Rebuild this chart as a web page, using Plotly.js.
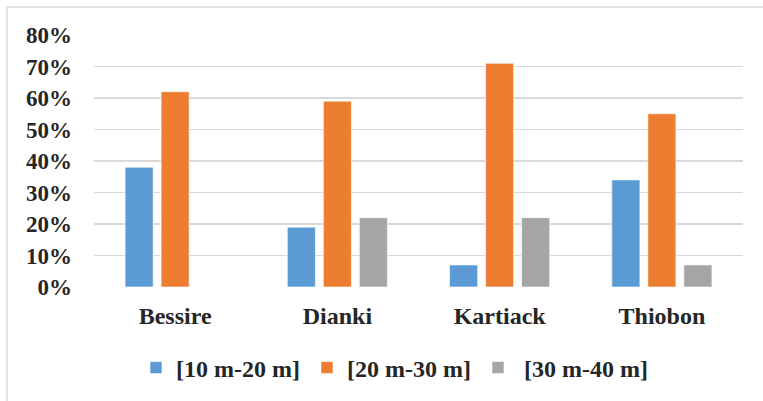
<!DOCTYPE html>
<html>
<head>
<meta charset="utf-8">
<script src="https://cdn.plot.ly/plotly-3.0.1.min.js"></script>
<style>
html,body{margin:0;padding:0;background:#fff;}
#chart{width:763px;height:401px;}
</style>
</head>
<body>
<div id="chart"></div>
<script>
var categories = ["Bessire", "Dianki", "Kartiack", "Thiobon"];
var seriesNames = ["[10 m-20 m]", "[20 m-30 m]", " [30 m-40 m]"];
var s10_20 = [38, 19, 7, 34];
var s20_30 = [62, 59, 71, 55];
var s30_40 = [0, 22, 22, 7];
var colors = ["#5b9bd5", "#ed7d31", "#a5a5a5"];
var yTicks = [0, 10, 20, 30, 40, 50, 60, 70, 80];
var yTickLabels = ["0%", "10%", "20%", "30%", "40%", "50%", "60%", "70%", "80%"];

var font = "Liberation Serif, Times New Roman, serif";
var textColor = "#262626";
var series = [s10_20, s20_30, s30_40];
var traces = series.map(function (vals, i) {
  return {
    type: "bar",
    name: seriesNames[i],
    x: categories,
    y: vals,
    marker: {color: colors[i], line: {color: "rgba(255,255,255,0.6)", width: 1}},
    hoverinfo: "none"
  };
});

var W = 763, H = 401, L = 94, R = 20, T = 35, B = 113;
var pw = W - L - R, ph = H - T - B;
function px(x) { return (x - L) / pw; }
function py(y) { return 1 - (y - T) / ph; }

var layout = {
  width: W, height: H,
  margin: {l: L, r: R, t: T, b: B, pad: 0},
  paper_bgcolor: "#fff",
  plot_bgcolor: "#fff",
  barmode: "group",
  bargap: 0.334,
  bargroupgap: 0.22,
  showlegend: true,
  font: {family: font, size: 24, color: textColor},
  xaxis: {
    type: "category",
    showgrid: false,
    zeroline: false,
    showline: false,
    ticks: "",
    ticklabelstandoff: 12,
    tickfont: {family: font, size: 24, color: textColor, weight: "bold"}
  },
  yaxis: {
    range: [0, 80],
    tickvals: yTicks,
    ticktext: yTickLabels,
    showgrid: true,
    gridcolor: "#d9d9d9",
    gridwidth: 1.5,
    zeroline: false,
    showline: false,
    ticks: "",
    ticklabelstandoff: 21,
    tickfont: {family: font, size: 23, color: textColor, weight: "bold"}
  },
  legend: {
    orientation: "h",
    x: px(136), xanchor: "left",
    y: py(368), yanchor: "middle",
    font: {family: font, size: 24, color: textColor, weight: "bold"},
    itemwidth: 30,
    entrywidth: 126,
    entrywidthmode: "pixels",
    traceorder: "normal"
  },
  shapes: [{
    type: "rect", xref: "paper", yref: "paper",
    x0: px(7), x1: px(775), y0: py(415), y1: py(7),
    line: {color: "#d9d9d9", width: 1.5}, fillcolor: "rgba(0,0,0,0)", layer: "below"
  }]
};

Plotly.newPlot("chart", traces, layout, {displayModeBar: false, staticPlot: true});
</script>
</body>
</html>
